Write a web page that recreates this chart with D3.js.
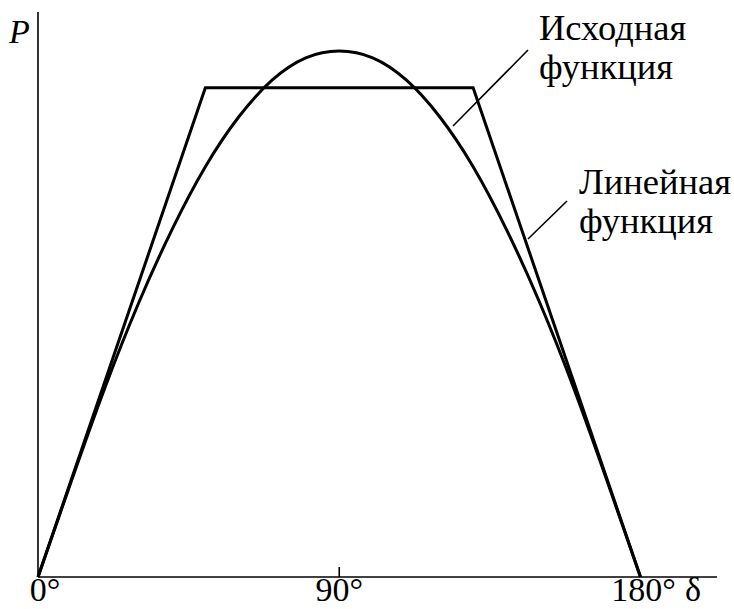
<!DOCTYPE html>
<html>
<head>
<meta charset="utf-8">
<script src="https://cdn.jsdelivr.net/npm/d3@7"></script>
</head>
<body style="margin:0">
<div id="container"></div>
<script>

// original function P(δ), every 10°
const curveDeg = [0, 10, 20, 30, 40, 50, 60, 70, 80, 90, 100, 110, 120, 130, 140, 150, 160, 170, 180];
const curveP = [0, 0.183, 0.36, 0.52, 0.66, 0.78, 0.875, 0.945, 0.987, 1.00, 0.987, 0.945, 0.875, 0.78, 0.66, 0.52, 0.36, 0.183, 0];

// linear (trapezoid) approximation
const lineDeg = [0, 50, 130, 180];
const lineP = [0, 0.93, 0.93, 0];

const tickDeg = [0, 90, 180];
const tickLabels = ["0°", "90°", "180°"];

const labelCurve = ["Исходная", "функция"];
const labelLine = ["Линейная", "функция"];

const serif = "Liberation Serif";

function main() {
    const width = 734, height = 609;

    const svg = d3.select("#container")
        .append("svg")
        .attr("width", width)
        .attr("height", height);

    const xScale = d3.scaleLinear()
        .domain([0, 180])
        .range([38, 640.5]);

    const yScale = d3.scaleLinear()
        .domain([0, 1])
        .range([577, 51]);

    // axes
    svg.append("line")
        .attr("x1", xScale(0)).attr("x2", xScale(0))
        .attr("y1", 12).attr("y2", yScale(0))
        .attr("stroke", "black").attr("stroke-width", 1.6);

    svg.append("line")
        .attr("x1", xScale(0)).attr("x2", 717)
        .attr("y1", yScale(0)).attr("y2", yScale(0))
        .attr("stroke", "black").attr("stroke-width", 1.6);

    svg.append("line")
        .attr("x1", xScale(90)).attr("x2", xScale(90))
        .attr("y1", yScale(0) - 10).attr("y2", yScale(0))
        .attr("stroke", "black").attr("stroke-width", 1.6);

    svg.selectAll(".tick")
        .data(tickDeg)
        .enter()
        .append("text")
        .attr("class", "tick")
        .attr("x", (d, i) => xScale(d) + (i === 0 ? 7 : (i === 2 ? 3 : 0)))
        .attr("y", 601)
        .attr("text-anchor", "middle")
        .attr("font-family", serif)
        .attr("font-size", 34)
        .text((d, i) => tickLabels[i]);

    svg.append("text")
        .attr("x", 685)
        .attr("y", 601)
        .attr("font-family", serif)
        .attr("font-size", 34)
        .text("δ");

    svg.append("text")
        .attr("x", 9)
        .attr("y", 43)
        .attr("font-family", serif)
        .attr("font-size", 34)
        .attr("font-style", "italic")
        .text("P");

    const line = d3.line()
        .x(d => xScale(d[0]))
        .y(d => yScale(d[1]));

    svg.append("path")
        .datum(curveDeg.map((d, i) => [d, curveP[i]]))
        .attr("fill", "none")
        .attr("stroke", "black")
        .attr("stroke-width", 3)
        .attr("d", line.curve(d3.curveNatural));

    svg.append("path")
        .datum(lineDeg.map((d, i) => [d, lineP[i]]))
        .attr("fill", "none")
        .attr("stroke", "black")
        .attr("stroke-width", 3)
        .attr("stroke-linejoin", "miter")
        .attr("d", line.curve(d3.curveLinear));

    // leader lines
    svg.append("line")
        .attr("x1", 453).attr("y1", 126)
        .attr("x2", 528).attr("y2", 50)
        .attr("stroke", "black").attr("stroke-width", 1.6);

    svg.append("line")
        .attr("x1", 528).attr("y1", 239)
        .attr("x2", 567).attr("y2", 201)
        .attr("stroke", "black").attr("stroke-width", 1.6);

    function addLabel(lines, x, y) {
        svg.selectAll(null)
            .data(lines)
            .enter()
            .append("text")
            .attr("x", x)
            .attr("y", (d, i) => y + i * 39)
            .attr("font-family", serif)
            .attr("font-size", 36.5)
            .text(d => d);
    }

    addLabel(labelCurve, 539, 40);
    addLabel(labelLine, 579, 194);
}

main();
</script>
</body>
</html>
